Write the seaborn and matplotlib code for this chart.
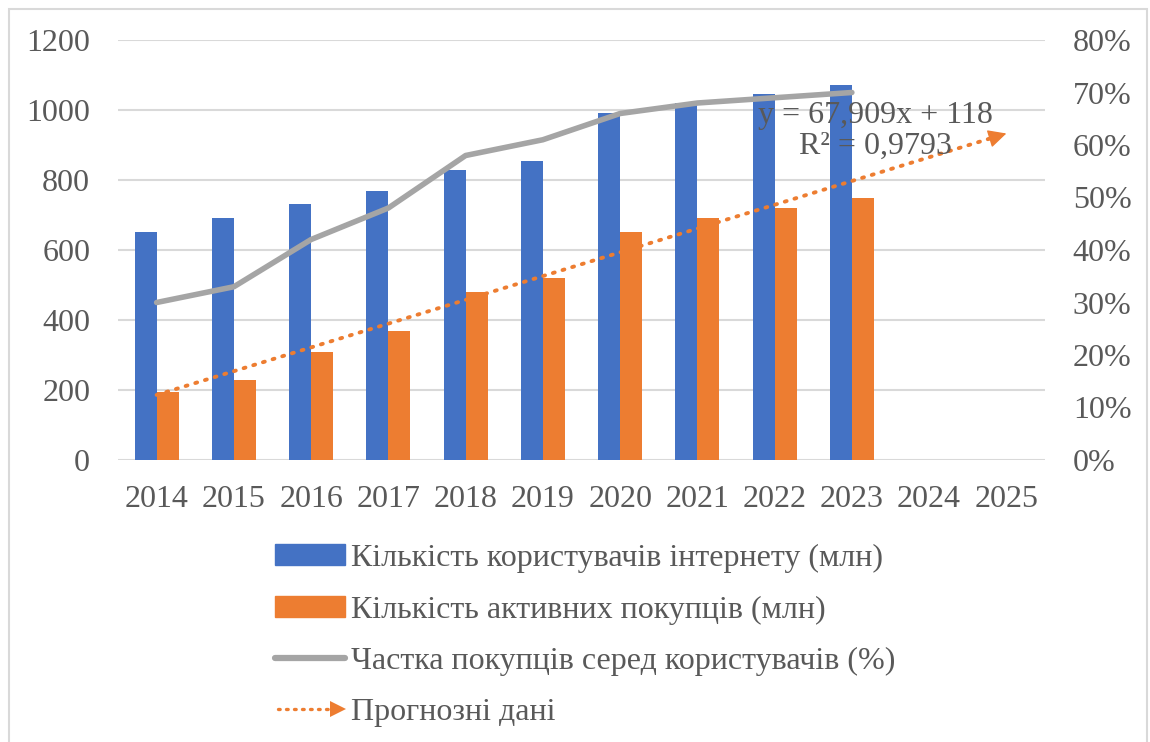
import numpy as np
import pandas as pd
import matplotlib
matplotlib.use('Agg')
import matplotlib.pyplot as plt
import seaborn as sns
from matplotlib.lines import Line2D
from matplotlib.patches import Patch, Rectangle
from matplotlib.ticker import PercentFormatter
from matplotlib.legend_handler import HandlerBase

# data
years = ['2014', '2015', '2016', '2017', '2018', '2019', '2020', '2021', '2022', '2023', '2024', '2025']
data_years = years[:10]
users = [650, 690, 730, 770, 830, 855, 990, 1020, 1045, 1070]
buyers = [195, 230, 310, 370, 480, 520, 650, 690, 720, 750]
share = [30, 33, 42, 48, 58, 61, 66, 68, 69, 70]

lbl_users = 'Кількість користувачів інтернету (млн)'
lbl_buyers = 'Кількість активних покупців (млн)'
lbl_share = 'Частка покупців серед користувачів (%)'
lbl_trend = 'Прогнозні дані'

blue = '#4472C4'
orange = '#ED7D31'
grey = '#A5A5A5'
txt = '#595959'
fs = 23

sns.set_style('white')
plt.rcParams['font.family'] = ['Liberation Serif', 'DejaVu Serif']

df = pd.DataFrame({
    'year': data_years * 2,
    'value': users + buyers,
    'series': [lbl_users] * len(users) + [lbl_buyers] * len(buyers),
})

fig = plt.figure(figsize=(11.5, 7.42), dpi=100)
ax = fig.add_axes([118 / 1150, 1 - 460 / 742, (1045 - 118) / 1150, 420 / 742])

sns.barplot(data=df, x='year', y='value', hue='series', order=years,
            hue_order=[lbl_users, lbl_buyers], palette=[blue, orange],
            width=0.57, saturation=1, linewidth=0, legend=False, ax=ax)

# linear trend on buyers, forecast 2 periods forward
xs = np.arange(1, len(buyers) + 1)
coef = np.polyfit(xs, buyers, 1)
fit = np.polyval(coef, xs)
r2 = 1 - np.sum((np.array(buyers) - fit) ** 2) / np.sum((np.array(buyers) - np.mean(buyers)) ** 2)
xt = np.arange(1, len(years) + 1)
yt = np.polyval(coef, xt)
ax.plot(xt - 1, yt, color=orange, lw=2.8, ls=(0, (0.5, 2.1)), dash_capstyle='round', zorder=4)
ax.annotate('', xy=(xt[-1] - 1, yt[-1]), xytext=(xt[-1] - 1.2, np.polyval(coef, xt[-1] - 0.2)),
            arrowprops=dict(arrowstyle='-|>,head_length=0.8,head_width=0.4', color=orange,
                            lw=1, mutation_scale=14, shrinkA=0, shrinkB=0), zorder=4)

eq = f'y = {coef[0]:.3f}x + {coef[1]:.0f}\nR² = {r2:.4f}'.replace('.', ',')
ax.text(9.3, 940, eq, ha='center', va='center', fontsize=fs, color=txt, linespacing=1.05, zorder=5)

ax.set_xlim(-0.5, 11.5)
ax.set_ylim(0, 1200)
ax.set_yticks(range(0, 1201, 200))
ax.yaxis.grid(True, color='#D9D9D9', lw=1.5)
ax.set_axisbelow(True)
ax.set_xlabel('')
ax.set_ylabel('')

ax2 = ax.twinx()
sns.lineplot(x=np.arange(len(share)), y=np.array(share) / 100, color=grey, lw=4,
             solid_capstyle='round', ax=ax2, zorder=3)
ax2.set_ylim(0, 0.8)
ax2.set_yticks(np.arange(0, 0.81, 0.1))
ax2.yaxis.set_major_formatter(PercentFormatter(1.0, decimals=0))
ax2.set_ylabel('')

for a in (ax, ax2):
    for s in a.spines.values():
        s.set_visible(False)
    a.tick_params(length=0, labelsize=fs, labelcolor=txt)
ax.tick_params(axis='y', pad=20)
ax2.tick_params(axis='y', pad=20)
ax.tick_params(axis='x', pad=18)


class ArrowLineHandler(HandlerBase):
    def create_artists(self, legend, orig_handle, xdescent, ydescent, width, height, fontsize, trans):
        y = height / 2 - ydescent
        line = Line2D([-xdescent + 2, width - xdescent - 10], [y, y], color=orange, lw=2.4,
                      ls=(0, (0.5, 1.9)), dash_capstyle='round', transform=trans)
        head = Line2D([width - xdescent - 5], [y], marker='>', ms=12, mew=0, color=orange,
                      transform=trans)
        return [line, head]


h_trend = Line2D([], [], color=orange)
handles = [Patch(color=blue), Patch(color=orange),
           Line2D([], [], color=grey, lw=4.5, solid_capstyle='round'), h_trend]
labels = [lbl_users, lbl_buyers, lbl_share, lbl_trend]
fig.legend(handles, labels, loc='upper left', bbox_to_anchor=(275 / 1150, 1 - 544 / 742),
           frameon=False, fontsize=fs, labelcolor=txt, handlelength=2.2, handleheight=0.62,
           handletextpad=0.17, labelspacing=0.7, borderpad=0, borderaxespad=0,
           handler_map={h_trend: ArrowLineHandler()})

fig.patches.append(Rectangle((9 / 1150, -0.05), 1138 / 1150, 1.05 - 9 / 742, transform=fig.transFigure,
                             fill=False, edgecolor='#D9D9D9', lw=1.5))

fig.savefig('out.png', dpi=100)
